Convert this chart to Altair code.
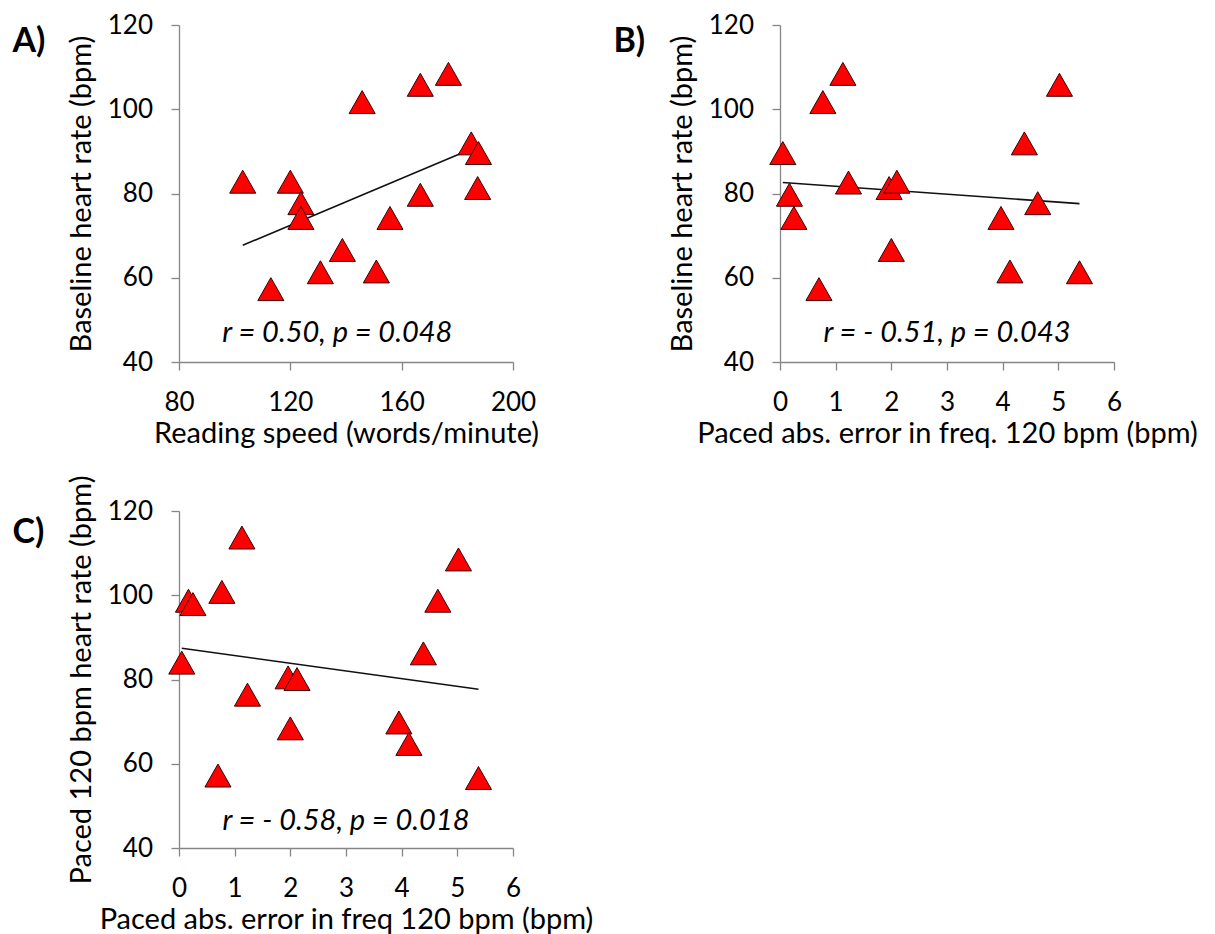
import altair as alt
import pandas as pd

# ---------------- data ----------------
# Panel A: reading speed vs baseline heart rate
a_speed = [102.9, 120.0, 123.8, 123.8, 113.0, 130.8, 138.7, 145.8,
           150.9, 155.8, 166.7, 166.7, 176.8, 185.0, 187.6, 187.3]
a_hr = [82.8, 82.8, 77.7, 74.2, 57.3, 61.3, 66.6, 101.7,
        61.5, 74.2, 79.7, 105.8, 108.4, 91.9, 89.6, 81.3]

# Panel B: paced abs. error vs baseline heart rate
b_err = [0.05, 0.17, 0.25, 0.70, 0.77, 1.13, 1.23, 1.96,
         2.00, 2.10, 3.97, 4.13, 4.39, 4.63, 5.02, 5.38]
b_hr = [89.6, 79.7, 74.2, 57.3, 101.7, 108.4, 82.6, 81.3,
        66.6, 82.8, 74.2, 61.5, 91.9, 77.7, 105.8, 61.3]

# Panel C: paced abs. error vs paced 120 bpm heart rate
c_err = [0.05, 0.17, 0.25, 0.70, 0.77, 1.13, 1.23, 1.96,
         2.00, 2.12, 3.95, 4.13, 4.39, 4.65, 5.02, 5.38]
c_hr = [84.0, 98.7, 97.9, 57.2, 100.8, 113.7, 76.4, 80.5,
        68.4, 80.1, 69.8, 64.7, 86.2, 98.7, 108.5, 56.6]

# Linear trend lines (end points)
a_fit_x = [102.9, 187.6]
a_fit_y = [67.7, 91.3]
b_fit_x = [0.05, 5.38]
b_fit_y = [82.6, 77.6]
c_fit_x = [0.05, 5.38]
c_fit_y = [87.4, 77.7]

# Tick values
speed_ticks = [80, 120, 160, 200]
err_ticks = [0, 1, 2, 3, 4, 5, 6]
hr_ticks = [40, 60, 80, 100, 120]

# Annotations
a_note = "r = 0.50, p = 0.048"
b_note = "r = - 0.51, p = 0.043"
c_note = "r = - 0.58, p = 0.018"
a_note_xy = [136.9, 47.0]
b_note_xy = [3.0, 47.0]
c_note_xy = [3.0, 46.5]

FONT = "Lato"
W, H = 334, 337
TRI = "M-1,0.88L0,-0.88L1,0.88Z"


def panel(px, py, fx, fy, xdom, xticks, xtitle, ytitle, note, note_xy, label, label_dy):
    pts = pd.DataFrame({"x": px, "y": py})
    fit = pd.DataFrame({"x": fx, "y": fy})
    nt = pd.DataFrame({"x": [note_xy[0]], "y": [note_xy[1]], "t": [note]})
    lb = pd.DataFrame({"t": [label]})

    xax = alt.Axis(values=xticks, title=xtitle, titleX=W / 2, titleY=71,
                   titleBaseline="middle", labelPadding=19,
                   labelFlush=False, labelOverlap=False)
    yax = alt.Axis(values=hr_ticks, title=ytitle, titleX=-98, titleY=H / 2,
                   titleBaseline="middle", labelPadding=18.5,
                   labelFlush=False, labelOverlap=False)
    xs = alt.Scale(domain=xdom, nice=False, zero=False)
    ys = alt.Scale(domain=[40, 120], nice=False, zero=False)

    line = alt.Chart(fit).mark_line(color="#111111", strokeWidth=1.6).encode(
        x=alt.X("x:Q", scale=xs, axis=xax),
        y=alt.Y("y:Q", scale=ys, axis=yax),
    )
    tri = alt.Chart(pts).mark_point(
        shape=TRI, filled=True, fill="#FF0000", stroke="#3a0000",
        strokeWidth=1, size=680, opacity=1
    ).encode(
        x=alt.X("x:Q", scale=xs, axis=xax),
        y=alt.Y("y:Q", scale=ys, axis=yax),
    )
    txt = alt.Chart(nt).mark_text(
        font=FONT, fontSize=29, fontStyle="italic", color="#000000",
        align="center", baseline="middle"
    ).encode(
        x=alt.X("x:Q", scale=xs, axis=xax),
        y=alt.Y("y:Q", scale=ys, axis=yax),
        text="t:N",
    )
    lab = alt.Chart(lb).mark_text(
        font=FONT, fontSize=34, fontWeight="bold", color="#000000",
        align="left", baseline="middle"
    ).encode(
        x=alt.value(-166.6), y=alt.value(label_dy), text="t:N"
    )
    return alt.layer(line, tri, txt, lab).properties(width=W, height=H)


pa = panel(a_speed, a_hr, a_fit_x, a_fit_y, [80, 200], speed_ticks,
           "Reading speed (words/minute)", "Baseline heart rate (bpm)",
           a_note, a_note_xy, "A)", 16.6)
pb = panel(b_err, b_hr, b_fit_x, b_fit_y, [0, 6], err_ticks,
           "Paced abs. error in freq. 120 bpm (bpm)", "Baseline heart rate (bpm)",
           b_note, b_note_xy, "B)", 16.6)
pc = panel(c_err, c_hr, c_fit_x, c_fit_y, [0, 6], err_ticks,
           "Paced abs. error in freq 120 bpm (bpm)", "Paced 120 bpm heart rate (bpm)",
           c_note, c_note_xy, "C)", 21.7)

chart = alt.concat(pa, pb, pc, columns=2).properties(
    spacing={"row": 149, "column": 267},
    bounds="flush",
    padding={"left": 4, "top": 4, "right": 5, "bottom": 5},
    background="white",
).configure_view(stroke=None).configure_axis(
    grid=False,
    domainColor="#868686", tickColor="#868686",
    domainWidth=1.3, tickWidth=1.3, tickSize=8,
    labelFont=FONT, labelFontSize=26, labelColor="#000000",
    titleFont=FONT, titleFontSize=29, titleFontWeight="normal", titleColor="#000000",
)

chart.save("out.html", embed_options={"renderer": "svg", "actions": False})
